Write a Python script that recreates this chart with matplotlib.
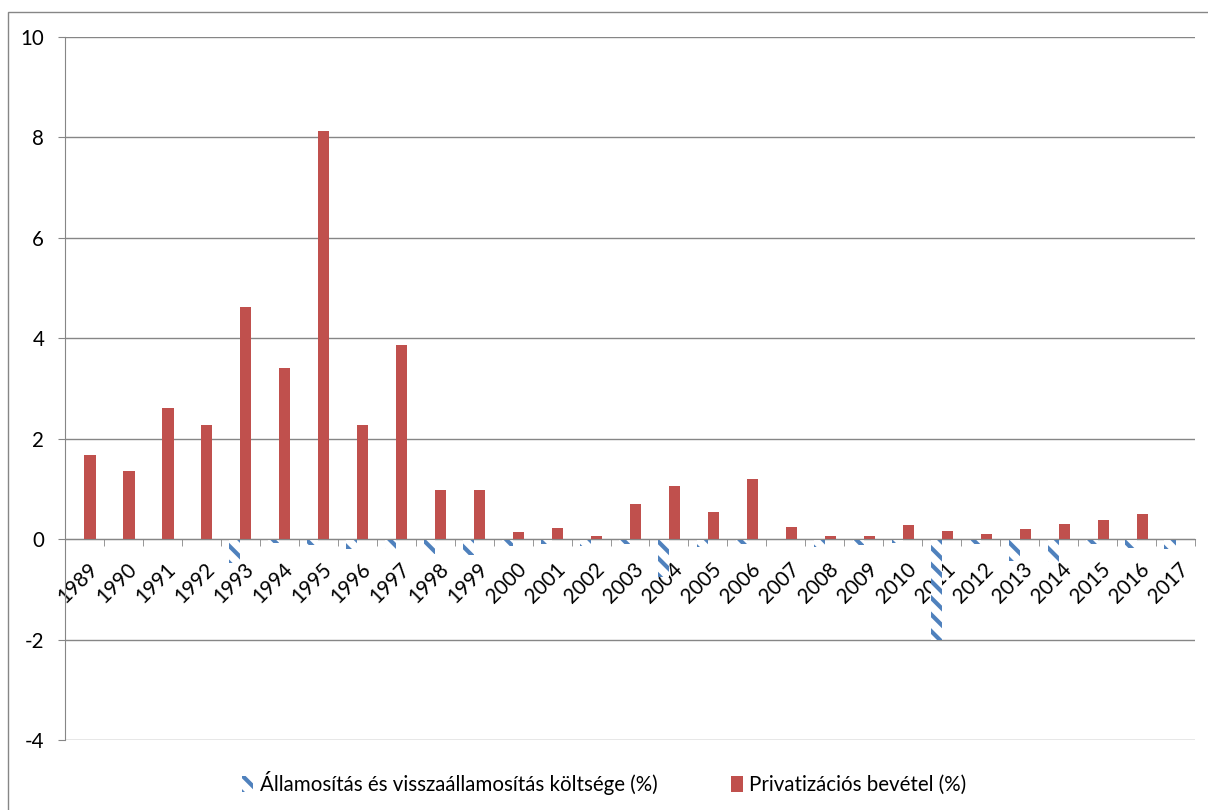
import matplotlib
matplotlib.use("Agg")
import matplotlib.pyplot as plt
import numpy as np
from matplotlib.patches import Rectangle

plt.rcParams['font.family'] = ['Lato', 'DejaVu Sans']
plt.rcParams['hatch.linewidth'] = 3.0

years = [str(y) for y in range(1989, 2018)]
allamositas = [0, 0, 0, 0, -0.48, -0.07, -0.12, -0.2, -0.19, -0.3,
               -0.32, -0.13, -0.1, -0.13, -0.09, -0.76, -0.15, -0.09, -0.02, -0.15,
               -0.12, -0.07, -2.0, -0.09, -0.44, -0.45, -0.09, -0.17, -0.19]
privatizacio = [1.67, 1.35, 2.62, 2.27, 4.63, 3.4, 8.12, 2.28, 3.87, 0.98,
                0.97, 0.14, 0.22, 0.06, 0.7, 1.06, 0.55, 1.2, 0.25, 0.07,
                0.06, 0.28, 0.17, 0.11, 0.2, 0.3, 0.38, 0.51, 0.0]
yticks = [-4, -2, 0, 2, 4, 6, 8, 10]
labels = ['Államosítás és visszaállamosítás költsége (%)', 'Privatizációs bevétel (%)']

W, H = 1208, 810
FS = 14.8
fig = plt.figure(figsize=(W / 100, H / 100), dpi=100)
ax = fig.add_axes([65 / W, 1 - 740 / H, (1195 - 65) / W, (740 - 37) / H])

x = np.arange(len(years))
bw = 0.285
ax.bar(x - bw / 2, allamositas, bw, facecolor='white', edgecolor='#4F81BD',
       hatch='\\\\', linewidth=0, label=labels[0], zorder=2)
ax.bar(x + bw / 2, privatizacio, bw, color='#C0504D', label=labels[1], zorder=2)

ax.set_xlim(-0.5, len(years) - 0.5)
ax.set_ylim(-4, 10)
ax.set_yticks(yticks)
ax.set_yticklabels([str(v) for v in yticks], fontsize=FS)
ax.yaxis.grid(True, color='#868686', linewidth=1)
ax.set_axisbelow(True)

for s in ['top', 'right']:
    ax.spines[s].set_visible(False)
ax.spines['left'].set_color('#868686')
ax.spines['bottom'].set_color('#868686')
ax.spines['bottom'].set_position(('data', 0))
ax.spines['bottom'].set_zorder(5)
ax.tick_params(axis='y', length=5, color='#868686', pad=10)

ax.set_xticks(x)
ax.set_xticklabels([])
ax.set_xticks(np.arange(-0.5, len(years), 1), minor=True)
ax.tick_params(axis='x', which='major', length=0)
ax.tick_params(axis='x', which='minor', length=5, color='#868686', direction='out')

for xi, lab in zip(x, years):
    ax.annotate(lab, xy=(xi, 0), xytext=(2.2, -14.5), textcoords='offset points',
                rotation=45, ha='right', va='top', rotation_mode='anchor',
                fontsize=FS, zorder=1.5)

leg = fig.legend(loc='center', bbox_to_anchor=(0.5, 1 - 783 / H), ncol=2,
                 frameon=False, fontsize=FS, handlelength=0.55, handleheight=0.85,
                 columnspacing=3.6, handletextpad=0.3)

fig.patches.append(Rectangle((8 / W, -0.1), 1.2, 1 - 12 / H + 0.1, transform=fig.transFigure,
                             fill=False, edgecolor='#868686', linewidth=1))

fig.savefig('out.png', dpi=100)
